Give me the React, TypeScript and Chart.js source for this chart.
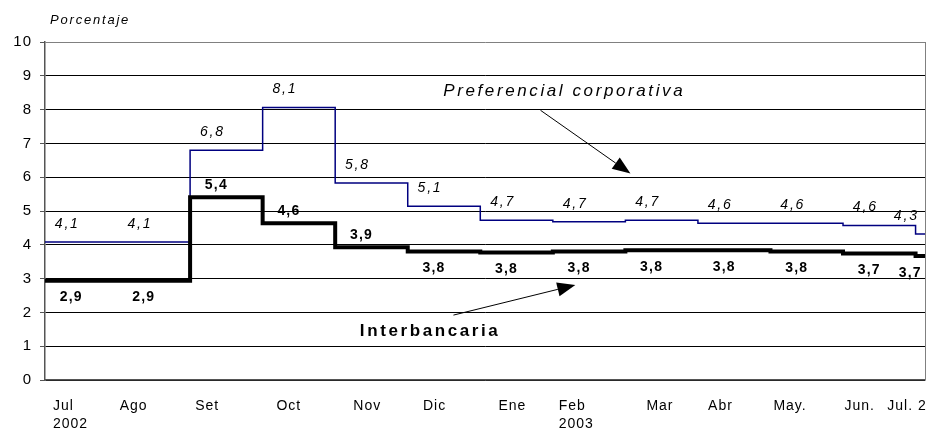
import React, { useEffect, useRef } from 'react';
import { Chart, registerables } from 'chart.js';

Chart.register(...registerables);

// ---- Data (monthly levels, Jul 2002 .. Jul 2003) ----
const months = ['Jul 2002', 'Ago', 'Set', 'Oct', 'Nov', 'Dic', 'Ene 2003', 'Feb', 'Mar', 'Abr', 'May', 'Jun', 'Jul 2003'];
const preferencial = [4.08, 4.08, 6.8, 8.06, 5.83, 5.14, 4.73, 4.68, 4.73, 4.64, 4.64, 4.57, 4.32];
const interbancaria = [2.94, 2.94, 5.41, 4.64, 3.93, 3.8, 3.77, 3.8, 3.84, 3.84, 3.8, 3.74, 3.67];
const interbancariaLabelSide = ['below', 'below', 'above', 'above', 'above', 'below', 'below', 'below', 'below', 'below', 'below', 'below', 'below'];

// ---- Axis labels ----
const xTickLabels: (string | string[])[] = [['Jul', '2002'], 'Ago', 'Set', 'Oct', 'Nov', 'Dic', 'Ene', ['Feb', '2003'], 'Mar', 'Abr', 'May.', 'Jun.', 'Jul. 2'];
const xTickAt = [0.11, 1.03, 2.07, 3.19, 4.25, 5.21, 6.25, 7.08, 8.29, 9.14, 10.04, 11.02, 11.61];
const yMin = 0;
const yMax = 10;
const xEnd = 12.13;
const yAxisTitle = 'Porcentaje';
const seriesNames = ['Interbancaria', 'Preferencial corporativa'];

const FONT = "'Liberation Sans', Arial, sans-serif";

const fmt = (v: number) => v.toFixed(1).replace('.', ',');

function drawArrow(ctx: CanvasRenderingContext2D, x1: number, y1: number, x2: number, y2: number) {
  const ang = Math.atan2(y2 - y1, x2 - x1);
  const len = 18;
  const hw = 7;
  const bx = x2 - len * Math.cos(ang);
  const by = y2 - len * Math.sin(ang);
  ctx.beginPath();
  ctx.moveTo(x1, y1);
  ctx.lineTo(bx, by);
  ctx.lineWidth = 1;
  ctx.strokeStyle = '#000';
  ctx.stroke();
  ctx.beginPath();
  ctx.moveTo(x2, y2);
  ctx.lineTo(bx + hw * Math.sin(ang), by - hw * Math.cos(ang));
  ctx.lineTo(bx - hw * Math.sin(ang), by + hw * Math.cos(ang));
  ctx.closePath();
  ctx.fillStyle = '#000';
  ctx.fill();
}

const spacingPlugin = {
  id: 'spacing',
  beforeLayout(chart: any) {
    chart.ctx.letterSpacing = '1px';
  },
  beforeDraw(chart: any) {
    chart.ctx.letterSpacing = '1px';
  },
};

const annotationsPlugin = {
  id: 'annotations',
  beforeDatasetsDraw(chart: any) {
    const { ctx, chartArea } = chart;
    ctx.save();
    ctx.strokeStyle = '#808080';
    ctx.lineWidth = 1;
    ctx.beginPath();
    ctx.moveTo(Math.round(chartArea.right) + 0.5, chartArea.top);
    ctx.lineTo(Math.round(chartArea.right) + 0.5, chartArea.bottom);
    ctx.stroke();
    ctx.restore();
  },
  afterDatasetsDraw(chart: any) {
    const { ctx, chartArea } = chart;
    const xs = chart.scales.x;
    const ys = chart.scales.y;
    ctx.save();
    ctx.fillStyle = '#000';
    ctx.textAlign = 'center';
    ctx.textBaseline = 'middle';

    // value labels - preferencial
    ctx.font = `italic 14px ${FONT}`;
    ctx.letterSpacing = '1.8px';
    preferencial.forEach((v, i) => {
      const cx = xs.getPixelForValue((i + Math.min(i + 1, xEnd)) / 2) - 14;
      const cy = ys.getPixelForValue(v) - 18;
      ctx.fillText(fmt(v), cx, cy);
    });

    // value labels - interbancaria
    ctx.font = `bold 14px ${FONT}`;
    ctx.letterSpacing = '1.2px';
    interbancaria.forEach((v, i) => {
      const cx = xs.getPixelForValue((i + Math.min(i + 1, xEnd)) / 2) - 10;
      const cy = ys.getPixelForValue(v) + (interbancariaLabelSide[i] === 'above' ? -12 : 17);
      ctx.fillText(fmt(v), cx, cy);
    });

    // series names
    ctx.textAlign = 'left';
    ctx.textBaseline = 'alphabetic';
    ctx.font = `italic 17px ${FONT}`;
    ctx.letterSpacing = '2.6px';
    ctx.fillText(seriesNames[1], xs.getPixelForValue(5.49), ys.getPixelForValue(8.4));
    ctx.font = `bold 17px ${FONT}`;
    ctx.letterSpacing = '2.6px';
    ctx.fillText(seriesNames[0], xs.getPixelForValue(4.34), ys.getPixelForValue(1.3));

    // arrows
    drawArrow(ctx, xs.getPixelForValue(6.83), ys.getPixelForValue(7.98), xs.getPixelForValue(8.07), ys.getPixelForValue(6.11));
    drawArrow(ctx, xs.getPixelForValue(5.63), ys.getPixelForValue(1.92), xs.getPixelForValue(7.31), ys.getPixelForValue(2.81));

    // axis title
    ctx.font = `italic 13px ${FONT}`;
    ctx.letterSpacing = '1.8px';
    ctx.fillText(yAxisTitle, chartArea.left + 5, chartArea.top - 18);
    ctx.restore();
  },
};

const toPoints = (vals: number[]) => [
  ...vals.map((v, i) => ({ x: i, y: v })),
  { x: xEnd, y: vals[vals.length - 1] },
];

export default function App() {
  const ref = useRef<HTMLCanvasElement | null>(null);

  useEffect(() => {
    if (!ref.current) return;
    const chart = new Chart(ref.current, {
      type: 'line',
      data: {
        labels: months,
        datasets: [
          {
            label: seriesNames[0],
            data: toPoints(interbancaria),
            borderColor: '#000',
            borderWidth: 4,
            stepped: true,
            pointRadius: 0,
            fill: false,
            borderJoinStyle: 'miter',
          },
          {
            label: seriesNames[1],
            data: toPoints(preferencial),
            borderColor: '#000080',
            borderWidth: 1.5,
            stepped: true,
            pointRadius: 0,
            fill: false,
          },
        ],
      },
      options: {
        responsive: false,
        animation: false,
        events: [],
        layout: { padding: { top: 42, right: 7, left: 0, bottom: 0 } },
        plugins: {
          legend: { display: false },
          tooltip: { enabled: false },
          title: { display: false },
        },
        scales: {
          x: {
            type: 'linear',
            min: 0,
            max: xEnd,
            grid: { display: false, drawTicks: false },
            border: { display: true, color: '#555', width: 1.5 },
            afterBuildTicks: (scale: any) => {
              scale.ticks = xTickAt.map((v) => ({ value: v }));
            },
            afterFit: (scale: any) => {
              scale.height = 50;
              scale.paddingLeft = 0;
              scale.paddingRight = 0;
            },
            ticks: {
              autoSkip: false,
              maxRotation: 0,
              minRotation: 0,
              align: 'start',
              padding: 17,
              color: '#000',
              font: { family: FONT, size: 14, lineHeight: 1.3 },
              callback: (_v: any, i: number) => xTickLabels[i],
            },
          },
          y: {
            min: yMin,
            max: yMax,
            afterFit: (scale: any) => {
              scale.width = 45;
            },
            grid: {
              color: (c: any) => (c.tick && c.tick.value === yMax ? '#808080' : '#000'),
              lineWidth: 1,
              tickLength: 5,
              tickColor: '#555',
            },
            border: { display: true, color: '#555', width: 1.5 },
            ticks: {
              stepSize: 1,
              padding: 8,
              color: '#000',
              font: { family: FONT, size: 15 },
            },
          },
        },
      },
      plugins: [spacingPlugin, annotationsPlugin],
    } as any);
    return () => chart.destroy();
  }, []);

  return (
    <canvas
      ref={ref}
      width={932}
      height={430}
      style={{ position: 'absolute', left: 0, top: 0, display: 'block', background: '#fff' }}
    />
  );
}
